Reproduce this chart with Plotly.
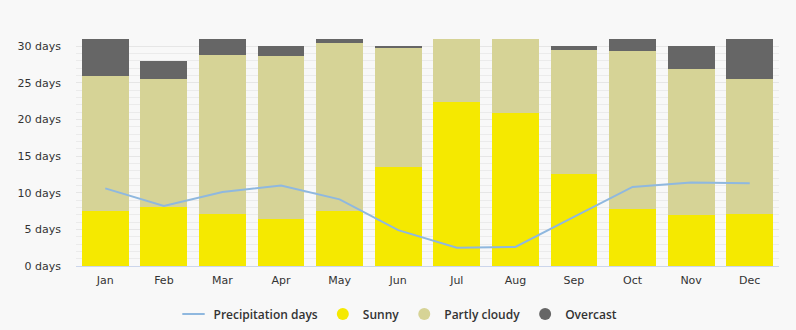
import plotly.graph_objects as go

months = ["Jan", "Feb", "Mar", "Apr", "May", "Jun", "Jul", "Aug", "Sep", "Oct", "Nov", "Dec"]
sunny = [7.5, 8.0, 7.1, 6.4, 7.5, 13.5, 22.4, 20.9, 12.5, 7.8, 7.0, 7.1]
partly_cloudy = [18.5, 17.5, 21.7, 22.3, 23.0, 16.3, 8.6, 10.1, 17.0, 21.6, 19.9, 18.4]
overcast = [5.0, 2.5, 2.2, 1.3, 0.5, 0.2, 0.0, 0.0, 0.5, 1.6, 3.1, 5.5]
precipitation_days = [10.6, 8.2, 10.1, 11.0, 9.1, 4.9, 2.5, 2.6, 6.7, 10.8, 11.4, 11.3]
ytick_vals = [0, 5, 10, 15, 20, 25, 30]
ytick_text = [f"{v} days" for v in ytick_vals]

c_sunny = "#f5e900"
c_partly = "#d6d396"
c_over = "#666666"
c_line = "#8fb8df"

fig = go.Figure()
fig.add_trace(go.Bar(x=months, y=sunny, name="Sunny", marker=dict(color=c_sunny, line=dict(width=0)), showlegend=False))
fig.add_trace(go.Bar(x=months, y=partly_cloudy, name="Partly cloudy", marker=dict(color=c_partly, line=dict(width=0)), showlegend=False))
fig.add_trace(go.Bar(x=months, y=overcast, name="Overcast", marker=dict(color=c_over, line=dict(width=0)), showlegend=False))
fig.add_trace(go.Scatter(x=months, y=precipitation_days, name="Precipitation days", mode="lines",
                         line=dict(color=c_line, width=2), showlegend=False))
# legend entries
fig.add_trace(go.Scatter(x=[None], y=[None], name="Precipitation days", mode="markers",
                         marker=dict(symbol="line-ew", size=16, line=dict(color=c_line, width=2))))
for nm, col in [("Sunny", c_sunny), ("Partly cloudy", c_partly), ("Overcast", c_over)]:
    fig.add_trace(go.Scatter(x=[None], y=[None], name=nm, mode="markers",
                             marker=dict(color=col, size=12, symbol="circle")))

fig.update_layout(
    width=796, height=330,
    margin=dict(l=76, r=17, t=39, b=64, autoexpand=False),
    paper_bgcolor="#f8f8f8", plot_bgcolor="#f8f8f8",
    barmode="stack", bargap=0.2,
    font=dict(family="DejaVu Sans, sans-serif", size=11, color="#333333"),
    legend=dict(orientation="h", xref="container", x=0.5, xanchor="center", y=-0.211, yanchor="middle",
                font=dict(family="Open Sans, sans-serif", size=12, color="#333333", weight=600),
                itemwidth=30, traceorder="normal"),
    xaxis=dict(showgrid=False, showline=True, linecolor="#ccd6eb", linewidth=1,
               ticks="", tickfont=dict(size=11), ticklabelstandoff=4, fixedrange=True),
    yaxis=dict(range=[0, 31], tickvals=ytick_vals, ticktext=ytick_text,
               showgrid=True, gridcolor="#e6e6e6", gridwidth=1, zeroline=False,
               minor=dict(dtick=1, showgrid=True, gridcolor="#ebebeb", gridwidth=1),
               ticks="", ticklabelstandoff=14, tickfont=dict(size=11)),
)

fig.write_html("out.html")
